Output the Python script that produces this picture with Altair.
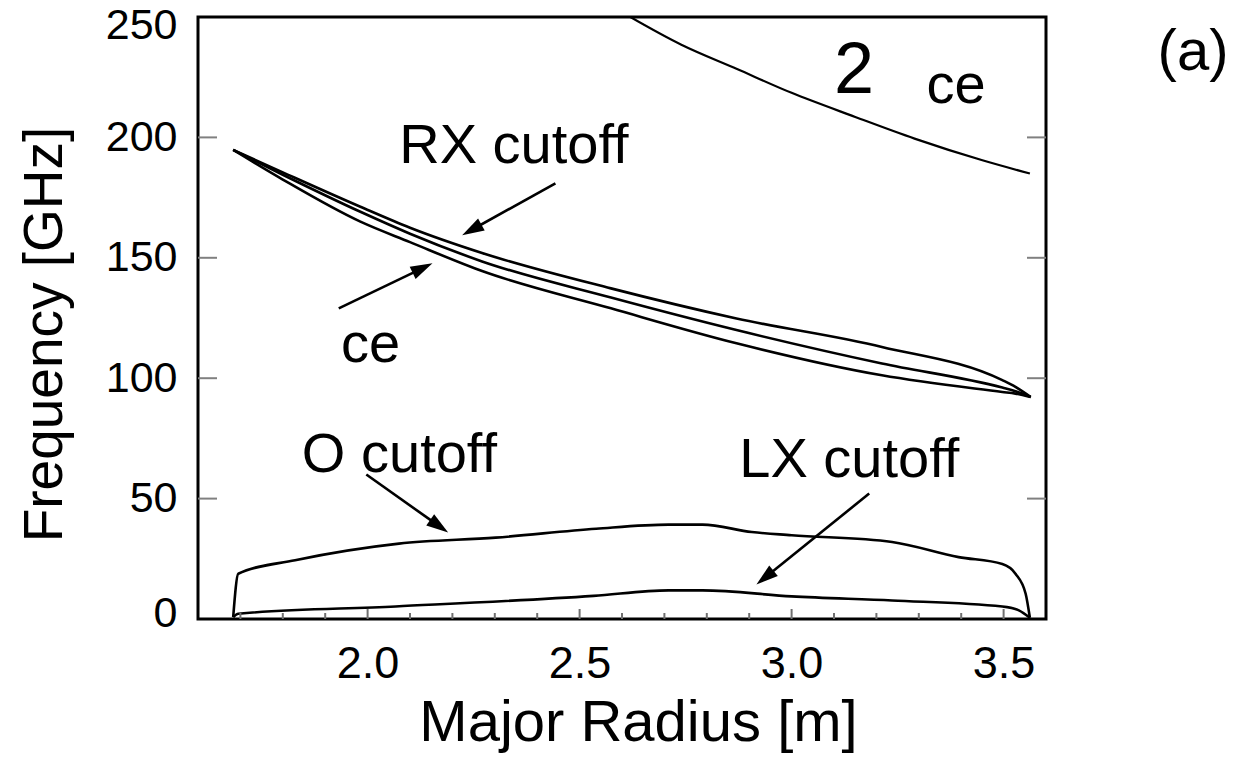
import math
import altair as alt
import pandas as pd

# ---- curve data: major radius [m] and frequency [GHz] ----
rx_r = [1.683, 1.80, 1.983, 2.10, 2.27, 2.574, 2.87, 3.213, 3.497, 3.528, 3.564]
rx_f = [194.8, 185.5, 171.2, 162.5, 152.0, 137.3, 124.8, 113.0, 99.2, 96.4, 92.2]   # right-hand cutoff
uh_f = [194.8, 184.5, 169.1, 160.0, 148.5, 133.5, 120.0, 106.1, 96.1, 94.6, 92.2]   # upper hybrid
ce_f = [194.8, 182.5, 165.0, 156.5, 144.5, 129.0, 114.5, 101.2, 94.3, 93.6, 92.2]   # fundamental ECE

ce2_r = [2.59, 2.74, 2.87, 3.0, 3.15, 3.29, 3.45, 3.562]
ce2_f = [253.0, 238.5, 228.5, 218.5, 208.5, 199.5, 190.5, 185.0]                   # second harmonic

o_r = [1.683, 1.695, 1.829, 2.074, 2.302, 2.539, 2.71, 2.79, 2.906, 3.0, 3.237, 3.394, 3.497, 3.528, 3.552, 3.562]
o_f = [0.8, 18.8, 24.4, 31.3, 33.8, 37.5, 39.2, 39.2, 36.1, 34.8, 32.0, 25.7, 22.8, 18.8, 10.5, 0.5]

lx_r = [1.683, 1.695, 2.066, 2.533, 2.71, 2.79, 3.0, 3.237, 3.497, 3.536, 3.562]
lx_f = [0.8, 2.2, 5.2, 9.6, 11.9, 11.9, 9.4, 7.7, 5.2, 3.6, 0.5]

# ---- axis ticks ----
x_major = [2.0, 2.5, 3.0, 3.5]
x_minor = [1.7, 1.8, 1.9, 2.1, 2.2, 2.3, 2.4, 2.6, 2.7, 2.8, 2.9, 3.1, 3.2, 3.3, 3.4]
y_ticks = [50, 100, 150, 200]
y_labels = [0, 50, 100, 150, 200, 250]

# ---- annotations (data coordinates) ----
labels = ["RX cutoff", "ce", "O cutoff", "LX cutoff", "ce"]
label_r = [2.345, 2.007, 2.075, 3.136, 3.388]
label_f = [189.2, 106.8, 61.1, 59.0, 214.3]

arrow_tail_r = [2.443, 1.932, 1.997, 3.183]
arrow_tail_f = [180.9, 129.0, 60.0, 52.1]
arrow_tip_r = [2.223, 2.153, 2.190, 2.917]
arrow_tip_f = [159.4, 147.7, 35.9, 14.3]

W, H = 848, 602
X_DOM = [1.6, 3.6]
Y_DOM = [0, 250]
SX = W / (X_DOM[1] - X_DOM[0])
SY = H / (Y_DOM[1] - Y_DOM[0])
HEAD = 22  # arrowhead length in px

xs = alt.Scale(domain=X_DOM, nice=False, zero=False)
ys = alt.Scale(domain=Y_DOM, nice=False, zero=False)

SANS = "Liberation Sans, Arial, Helvetica, sans-serif"

x_axis = alt.Axis(
    values=x_major, format=".1f", title="Major Radius [m]",
    labelFont=SANS, labelFontSize=45, labelPadding=58, labelBaseline="alphabetic",
    labelFlush=False,
    titleFont=SANS, titleFontSize=58, titleFontWeight="normal",
    titleX=440, titleY=121, titleAlign="center", titleBaseline="alphabetic")
y_axis = alt.Axis(
    values=y_labels, title="Frequency [GHz]",
    labelFont=SANS, labelFontSize=43, labelPadding=21, labelFlush=False,
    labelOffset={"condition": [{"test": "datum.value == 250", "value": 8},
                               {"test": "datum.value == 0", "value": -6}],
                 "value": 0},
    titleFont=SANS, titleFontSize=55, titleFontWeight="normal",
    titleAngle=270, titleX=-137, titleY=317, titleAlign="center",
    titleBaseline="alphabetic")


def X(field):
    return alt.X(field, scale=xs, axis=x_axis)


def Y(field):
    return alt.Y(field, scale=ys, axis=y_axis)


def curve(name, r, f):
    return pd.DataFrame({"curve": name, "r": r, "f": f, "i": range(len(r))})


curves = pd.concat([
    curve("RX cutoff", rx_r, rx_f),
    curve("upper hybrid", rx_r, uh_f),
    curve("ce", rx_r, ce_f),
    curve("O cutoff", o_r, o_f),
    curve("LX cutoff", lx_r, lx_f),
])
harm2 = curve("2ce", ce2_r, ce2_f)

lines = alt.Chart(curves).mark_line(
    color="black", strokeWidth=2.6, strokeJoin="round", interpolate="monotone"
).encode(x=X("r:Q"), y=Y("f:Q"), detail="curve:N", order="i:Q")

harm_line = alt.Chart(harm2).mark_line(
    color="black", strokeWidth=2.2, clip=True, interpolate="monotone"
).encode(x=X("r:Q"), y=Y("f:Q"), order="i:Q")

# inward tick marks
yt = pd.DataFrame({"f": y_ticks})
ytick_l = alt.Chart(yt).mark_rule(color="#808080", strokeWidth=2).encode(
    y=Y("f:Q"), x=alt.value(0), x2=alt.value(19))
ytick_r = alt.Chart(yt).mark_rule(color="#808080", strokeWidth=2).encode(
    y=Y("f:Q"), x=alt.value(W - 19), x2=alt.value(W))
xt_major = alt.Chart(pd.DataFrame({"r": x_major})).mark_rule(color="#707070", strokeWidth=2).encode(
    x=X("r:Q"), y=alt.value(H), y2=alt.value(H - 10))
xt_minor = alt.Chart(pd.DataFrame({"r": x_minor})).mark_rule(color="#707070", strokeWidth=2).encode(
    x=X("r:Q"), y=alt.value(H), y2=alt.value(H - 6))

# arrows: shaft plus filled head
rows = []
for tr, tf, hr, hf in zip(arrow_tail_r, arrow_tail_f, arrow_tip_r, arrow_tip_f):
    dx = (hr - tr) * SX
    dy = -(hf - tf) * SY
    length = math.hypot(dx, dy)
    ang = math.degrees(math.atan2(dx, -dy)) % 360
    k = (length - HEAD * 0.6) / length
    rows.append({"r": tr, "f": tf, "r1": tr + (hr - tr) * k, "f1": tf + (hf - tf) * k,
                 "hr": hr, "hf": hf, "ang": ang})
arrows = pd.DataFrame(rows)

shafts = alt.Chart(arrows).mark_rule(color="black", strokeWidth=2.6).encode(
    x=X("r:Q"), y=Y("f:Q"), x2="r1:Q", y2="f1:Q")
heads = alt.Chart(arrows).transform_calculate(r="datum.hr", f="datum.hf").mark_point(
    shape="M0,0L0.62,2L-0.62,2Z", filled=True, size=HEAD * HEAD,
    color="black", opacity=1, strokeWidth=0,
).encode(x=X("r:Q"), y=Y("f:Q"), angle=alt.Angle("ang:Q", scale=None))

ann = pd.DataFrame({"t": labels, "r": label_r, "f": label_f})
texts = alt.Chart(ann).mark_text(
    font=SANS, fontSize=56, baseline="alphabetic", align="center", color="black"
).encode(x=X("r:Q"), y=Y("f:Q"), text="t:N")

two = alt.Chart(pd.DataFrame({"t": ["2"], "r": [3.147], "f": [218.5]})).mark_text(
    font=SANS, fontSize=72, baseline="alphabetic", align="center", color="black"
).encode(x=X("r:Q"), y=Y("f:Q"), text="t:N")

panel = alt.Chart(pd.DataFrame({"t": ["(a)"]})).mark_text(
    font=SANS, fontSize=58, baseline="alphabetic", align="center", color="black"
).encode(x=alt.value(995), y=alt.value(53), text="t:N")

chart = alt.layer(
    lines, harm_line, ytick_l, ytick_r, xt_major, xt_minor, shafts, heads, texts, two, panel
).properties(
    width=W, height=H,
    autosize=alt.AutoSizeParams(type="none"),
    padding={"left": 198, "top": 17, "right": 206, "bottom": 140},
).configure_view(
    stroke="black", strokeWidth=3
).configure_axis(
    grid=False, domain=False, ticks=False, tickSize=0,
    labelColor="black", titleColor="black",
)

chart.save("out.html", embed_options={"renderer": "svg", "actions": False})
